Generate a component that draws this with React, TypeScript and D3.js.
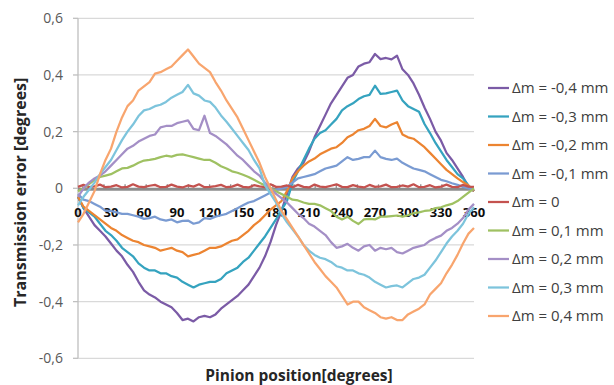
import * as d3 from "d3";

// pinion position, every 5 degrees
const degrees = d3.range(0, 361, 5);

const seriesNames = [
  "Δm = -0,4 mm",
  "Δm = -0,3 mm",
  "Δm = -0,2 mm",
  "Δm = -0,1 mm",
  "Δm = 0",
  "Δm = 0,1 mm",
  "Δm = 0,2 mm",
  "Δm = 0,3 mm",
  "Δm = 0,4 mm",
];

const colors = [
  "#7B5BA6",
  "#35A3BF",
  "#EC8431",
  "#7A9BD2",
  "#C4524F",
  "#9FC162",
  "#A48FC6",
  "#7DC4DC",
  "#F8A56E",
];

const m04 = [
  -0.03, -0.07, -0.1, -0.13, -0.15, -0.17, -0.195, -0.22, -0.24, -0.27, -0.295, -0.33, -0.36, -0.375, -0.385,
  -0.4, -0.41, -0.42, -0.44, -0.465, -0.46, -0.47, -0.455, -0.45, -0.455, -0.445, -0.425, -0.41, -0.395, -0.38,
  -0.36, -0.34, -0.31, -0.28, -0.24, -0.19, -0.13, -0.08, -0.02, 0.04, 0.07, 0.09, 0.13, 0.18, 0.22, 0.26, 0.3,
  0.33, 0.36, 0.39, 0.4, 0.43, 0.44, 0.445, 0.474, 0.456, 0.46, 0.455, 0.468, 0.42, 0.4, 0.37, 0.33, 0.285, 0.245,
  0.2, 0.168, 0.125, 0.1, 0.07, 0.04, 0.005, -0.01,
];
const m03 = [
  -0.03, -0.07, -0.085, -0.1, -0.125, -0.15, -0.165, -0.185, -0.21, -0.225, -0.24, -0.265, -0.28, -0.29, -0.29,
  -0.3, -0.3, -0.31, -0.315, -0.33, -0.34, -0.35, -0.34, -0.335, -0.33, -0.33, -0.32, -0.3, -0.29, -0.28, -0.26,
  -0.245, -0.22, -0.195, -0.17, -0.14, -0.11, -0.075, -0.045, 0.02, 0.06, 0.1, 0.14, 0.175, 0.195, 0.205, 0.225,
  0.245, 0.275, 0.29, 0.3, 0.315, 0.325, 0.33, 0.362, 0.333, 0.335, 0.34, 0.345, 0.31, 0.29, 0.28, 0.27, 0.227,
  0.195, 0.16, 0.13, 0.1, 0.075, 0.05, 0.035, 0.01, -0.01,
];
const m02 = [
  -0.03, -0.065, -0.08, -0.095, -0.11, -0.125, -0.14, -0.15, -0.165, -0.175, -0.185, -0.19, -0.2, -0.205, -0.21,
  -0.22, -0.215, -0.21, -0.22, -0.225, -0.24, -0.235, -0.23, -0.22, -0.21, -0.21, -0.205, -0.195, -0.185, -0.18,
  -0.165, -0.15, -0.13, -0.115, -0.095, -0.075, -0.06, -0.045, -0.01, 0.035, 0.06, 0.08, 0.095, 0.105, 0.12, 0.13,
  0.14, 0.145, 0.16, 0.18, 0.19, 0.205, 0.21, 0.22, 0.245, 0.22, 0.215, 0.225, 0.233, 0.19, 0.18, 0.175, 0.16,
  0.145, 0.125, 0.105, 0.085, 0.065, 0.05, 0.035, 0.022, 0.01, -0.01,
];
const m01 = [
  -0.02, -0.04, -0.045, -0.055, -0.065, -0.08, -0.08, -0.085, -0.09, -0.09, -0.095, -0.1, -0.108, -0.105, -0.1,
  -0.11, -0.114, -0.11, -0.12, -0.115, -0.114, -0.125, -0.12, -0.105, -0.108, -0.1, -0.095, -0.09, -0.08, -0.07,
  -0.06, -0.05, -0.045, -0.035, -0.025, -0.015, -0.005, 0.0, 0.005, 0.02, 0.035, 0.04, 0.045, 0.05, 0.06, 0.07,
  0.075, 0.08, 0.095, 0.11, 0.1, 0.104, 0.11, 0.11, 0.133, 0.11, 0.104, 0.1, 0.105, 0.09, 0.08, 0.07, 0.065, 0.06,
  0.05, 0.04, 0.03, 0.025, 0.018, 0.012, 0.005, 0.0, -0.005,
];
const m00 = [
  0.005, 0.012, 0.004, 0.007, 0.013, 0.004, 0.006, 0.011, 0.003, 0.005, 0.014, 0.006, 0.004, 0.009, 0.012, 0.004,
  0.005, 0.013, 0.006, 0.003, 0.01, 0.006, 0.014, 0.004, 0.005, 0.008, 0.012, 0.004, 0.006, 0.013, 0.005, 0.003,
  0.011, 0.007, 0.004, 0.014, 0.005, 0.006, 0.01, 0.004, 0.012, 0.005, 0.003, 0.013, 0.006, 0.004, 0.009, 0.014,
  0.005, 0.004, 0.011, 0.006, 0.003, 0.012, 0.005, 0.007, 0.013, 0.004, 0.005, 0.01, 0.006, 0.014, 0.004, 0.005,
  0.011, 0.003, 0.006, 0.013, 0.005, 0.004, 0.012, 0.006, 0.005,
];
const p01 = [
  -0.01, 0.0, 0.015, 0.03, 0.04, 0.045, 0.05, 0.06, 0.07, 0.072, 0.08, 0.09, 0.098, 0.1, 0.104, 0.11, 0.115, 0.112,
  0.118, 0.12, 0.115, 0.11, 0.105, 0.1, 0.1, 0.09, 0.078, 0.07, 0.06, 0.055, 0.048, 0.04, 0.03, 0.02, 0.01, 0.0,
  -0.01, -0.02, -0.03, -0.04, -0.043, -0.05, -0.055, -0.055, -0.06, -0.07, -0.08, -0.1, -0.11, -0.1, -0.115,
  -0.126, -0.11, -0.108, -0.11, -0.1, -0.1, -0.098, -0.096, -0.1, -0.095, -0.088, -0.085, -0.08, -0.078, -0.07,
  -0.067, -0.06, -0.055, -0.045, -0.03, -0.015, 0.0,
];
const p02 = [
  -0.03, 0.0, 0.02, 0.035, 0.045, 0.06, 0.08, 0.1, 0.12, 0.14, 0.15, 0.165, 0.175, 0.185, 0.19, 0.215, 0.22, 0.22,
  0.23, 0.235, 0.24, 0.21, 0.205, 0.256, 0.195, 0.185, 0.17, 0.155, 0.135, 0.115, 0.1, 0.08, 0.06, 0.045, 0.02,
  0.0, -0.02, -0.035, -0.05, -0.07, -0.09, -0.105, -0.125, -0.135, -0.15, -0.165, -0.19, -0.21, -0.205, -0.196,
  -0.21, -0.22, -0.205, -0.2, -0.22, -0.21, -0.215, -0.21, -0.225, -0.23, -0.22, -0.21, -0.205, -0.2, -0.185,
  -0.175, -0.167, -0.15, -0.14, -0.125, -0.105, -0.075, -0.055,
];
const p03 = [
  -0.06, -0.03, -0.005, 0.02, 0.05, 0.075, 0.1, 0.135, 0.17, 0.2, 0.225, 0.255, 0.275, 0.28, 0.29, 0.295, 0.305,
  0.32, 0.33, 0.34, 0.365, 0.335, 0.327, 0.31, 0.305, 0.285, 0.257, 0.235, 0.21, 0.185, 0.16, 0.135, 0.1, 0.07,
  0.01, -0.02, -0.05, -0.09, -0.12, -0.145, -0.17, -0.2, -0.22, -0.235, -0.245, -0.25, -0.26, -0.275, -0.28,
  -0.29, -0.29, -0.3, -0.305, -0.315, -0.33, -0.34, -0.35, -0.345, -0.343, -0.35, -0.335, -0.32, -0.315, -0.305,
  -0.28, -0.255, -0.225, -0.195, -0.17, -0.15, -0.125, -0.09, -0.067,
];
const p04 = [
  -0.12, -0.09, -0.05, -0.01, 0.05, 0.1, 0.14, 0.2, 0.25, 0.29, 0.31, 0.345, 0.36, 0.375, 0.405, 0.41, 0.42, 0.43,
  0.45, 0.47, 0.49, 0.465, 0.44, 0.425, 0.41, 0.375, 0.345, 0.31, 0.28, 0.25, 0.21, 0.17, 0.13, 0.09, 0.04, 0.0,
  -0.04, -0.08, -0.11, -0.14, -0.17, -0.2, -0.23, -0.26, -0.285, -0.31, -0.33, -0.35, -0.38, -0.41, -0.4, -0.4,
  -0.42, -0.43, -0.44, -0.455, -0.46, -0.455, -0.465, -0.465, -0.445, -0.435, -0.425, -0.41, -0.375, -0.355,
  -0.335, -0.3, -0.27, -0.235, -0.195, -0.16, -0.14,
];

const seriesValues = [m04, m03, m02, m01, m00, p01, p02, p03, p04];

const yTicks = [-0.6, -0.4, -0.2, 0, 0.2, 0.4, 0.6];
const xTicks = d3.range(0, 361, 30);
// small marks along the category axis
const axisMarks = [4.4, 23.6, 42.8, 62, 81.2, 100.4, 119.6, 138.8, 158, 177.2, 196.4, 215.6, 234.8, 254, 273.2, 292.4, 311.6, 330.8, 350];

const font = "'Open Sans', 'Noto Sans', sans-serif";

export default function App() {
  const width = 614;
  const height = 385;
  const plot = { left: 78, right: 474, top: 18.3, bottom: 358.3 };

  const x = d3.scaleLinear().domain([0, 360]).range([plot.left, plot.right]);
  const y = d3.scaleLinear().domain([-0.6, 0.6]).range([plot.bottom, plot.top]);
  const legendY = d3.scalePoint<string>().domain(seriesNames).range([88, 316]);

  const line = d3
    .line<number>()
    .x((_, i) => x(degrees[i]!))
    .y((d) => y(d));

  const fmtY = (v: number) => (v === 0 ? "0" : v.toFixed(1).replace(".", ","));

  return (
    <svg
      width={width}
      height={height}
      style={{ position: "absolute", left: 0, top: 0, background: "#fff" }}
      fontFamily={font}
    >
      {/* gridlines */}
      {yTicks
        .filter((t) => t !== 0)
        .map((t) => (
          <line key={`g${t}`} x1={plot.left} x2={plot.right} y1={y(t)} y2={y(t)} stroke="#D9D9D9" strokeWidth={1.3} />
        ))}
      {/* y axis */}
      <line x1={plot.left} x2={plot.left} y1={plot.top} y2={plot.bottom} stroke="#BFBFBF" strokeWidth={1.3} />
      {yTicks.map((t) => (
        <line key={`yt${t}`} x1={plot.left - 5} x2={plot.left} y1={y(t)} y2={y(t)} stroke="#BFBFBF" strokeWidth={1.3} />
      ))}
      {yTicks.map((t) => (
        <text
          key={`yl${t}`}
          x={63}
          y={y(t)}
          dy="0.35em"
          textAnchor="end"
          fontSize={14}
          fill="#595959"
        >
          {fmtY(t)}
        </text>
      ))}

      {/* x axis at zero */}
      <line x1={plot.left} x2={plot.right} y1={y(0) + 1} y2={y(0) + 1} stroke="#8C8C8C" strokeWidth={3} />
      {axisMarks.map((d) => (
        <line key={`am${d}`} x1={x(d)} x2={x(d)} y1={y(0) - 4} y2={y(0) + 1} stroke="#8C8C8C" strokeWidth={1.3} />
      ))}
      {xTicks.map((t) => (
        <text
          key={`xl${t}`}
          x={x(t)}
          y={217}
          textAnchor="middle"
          fontSize={13}
          fontWeight="bold"
          fill="#0D0D0D"
        >
          {t}
        </text>
      ))}

      {/* series */}
      {seriesValues.map((vals, i) => (
        <path
          key={seriesNames[i]}
          d={line(vals) ?? ""}
          fill="none"
          stroke={colors[i]}
          strokeWidth={2.25}
          strokeLinejoin="round"
        />
      ))}

      {/* axis titles */}
      <text
        transform={`translate(20,${(plot.top + plot.bottom) / 2 + 4}) rotate(-90)`}
        textAnchor="middle"
        dy="0.35em"
        fontSize={16}
        fontWeight="bold"
        fill="#262626"
      >
        Transmission error [degrees]
      </text>
      <text x={299} y={381} textAnchor="middle" fontSize={15.5} fontWeight="bold" fill="#262626">
        Pinion position[degrees]
      </text>

      {/* legend */}
      {seriesNames.map((name, i) => (
        <g key={`lg${name}`} transform={`translate(0,${legendY(name)})`}>
          <line x1={488} x2={509} y1={0} y2={0} stroke={colors[i]} strokeWidth={2.25} />
          <text x={512} y={0} dy="0.35em" fontSize={15} fill="#404040">
            {name}
          </text>
        </g>
      ))}
    </svg>
  );
}
